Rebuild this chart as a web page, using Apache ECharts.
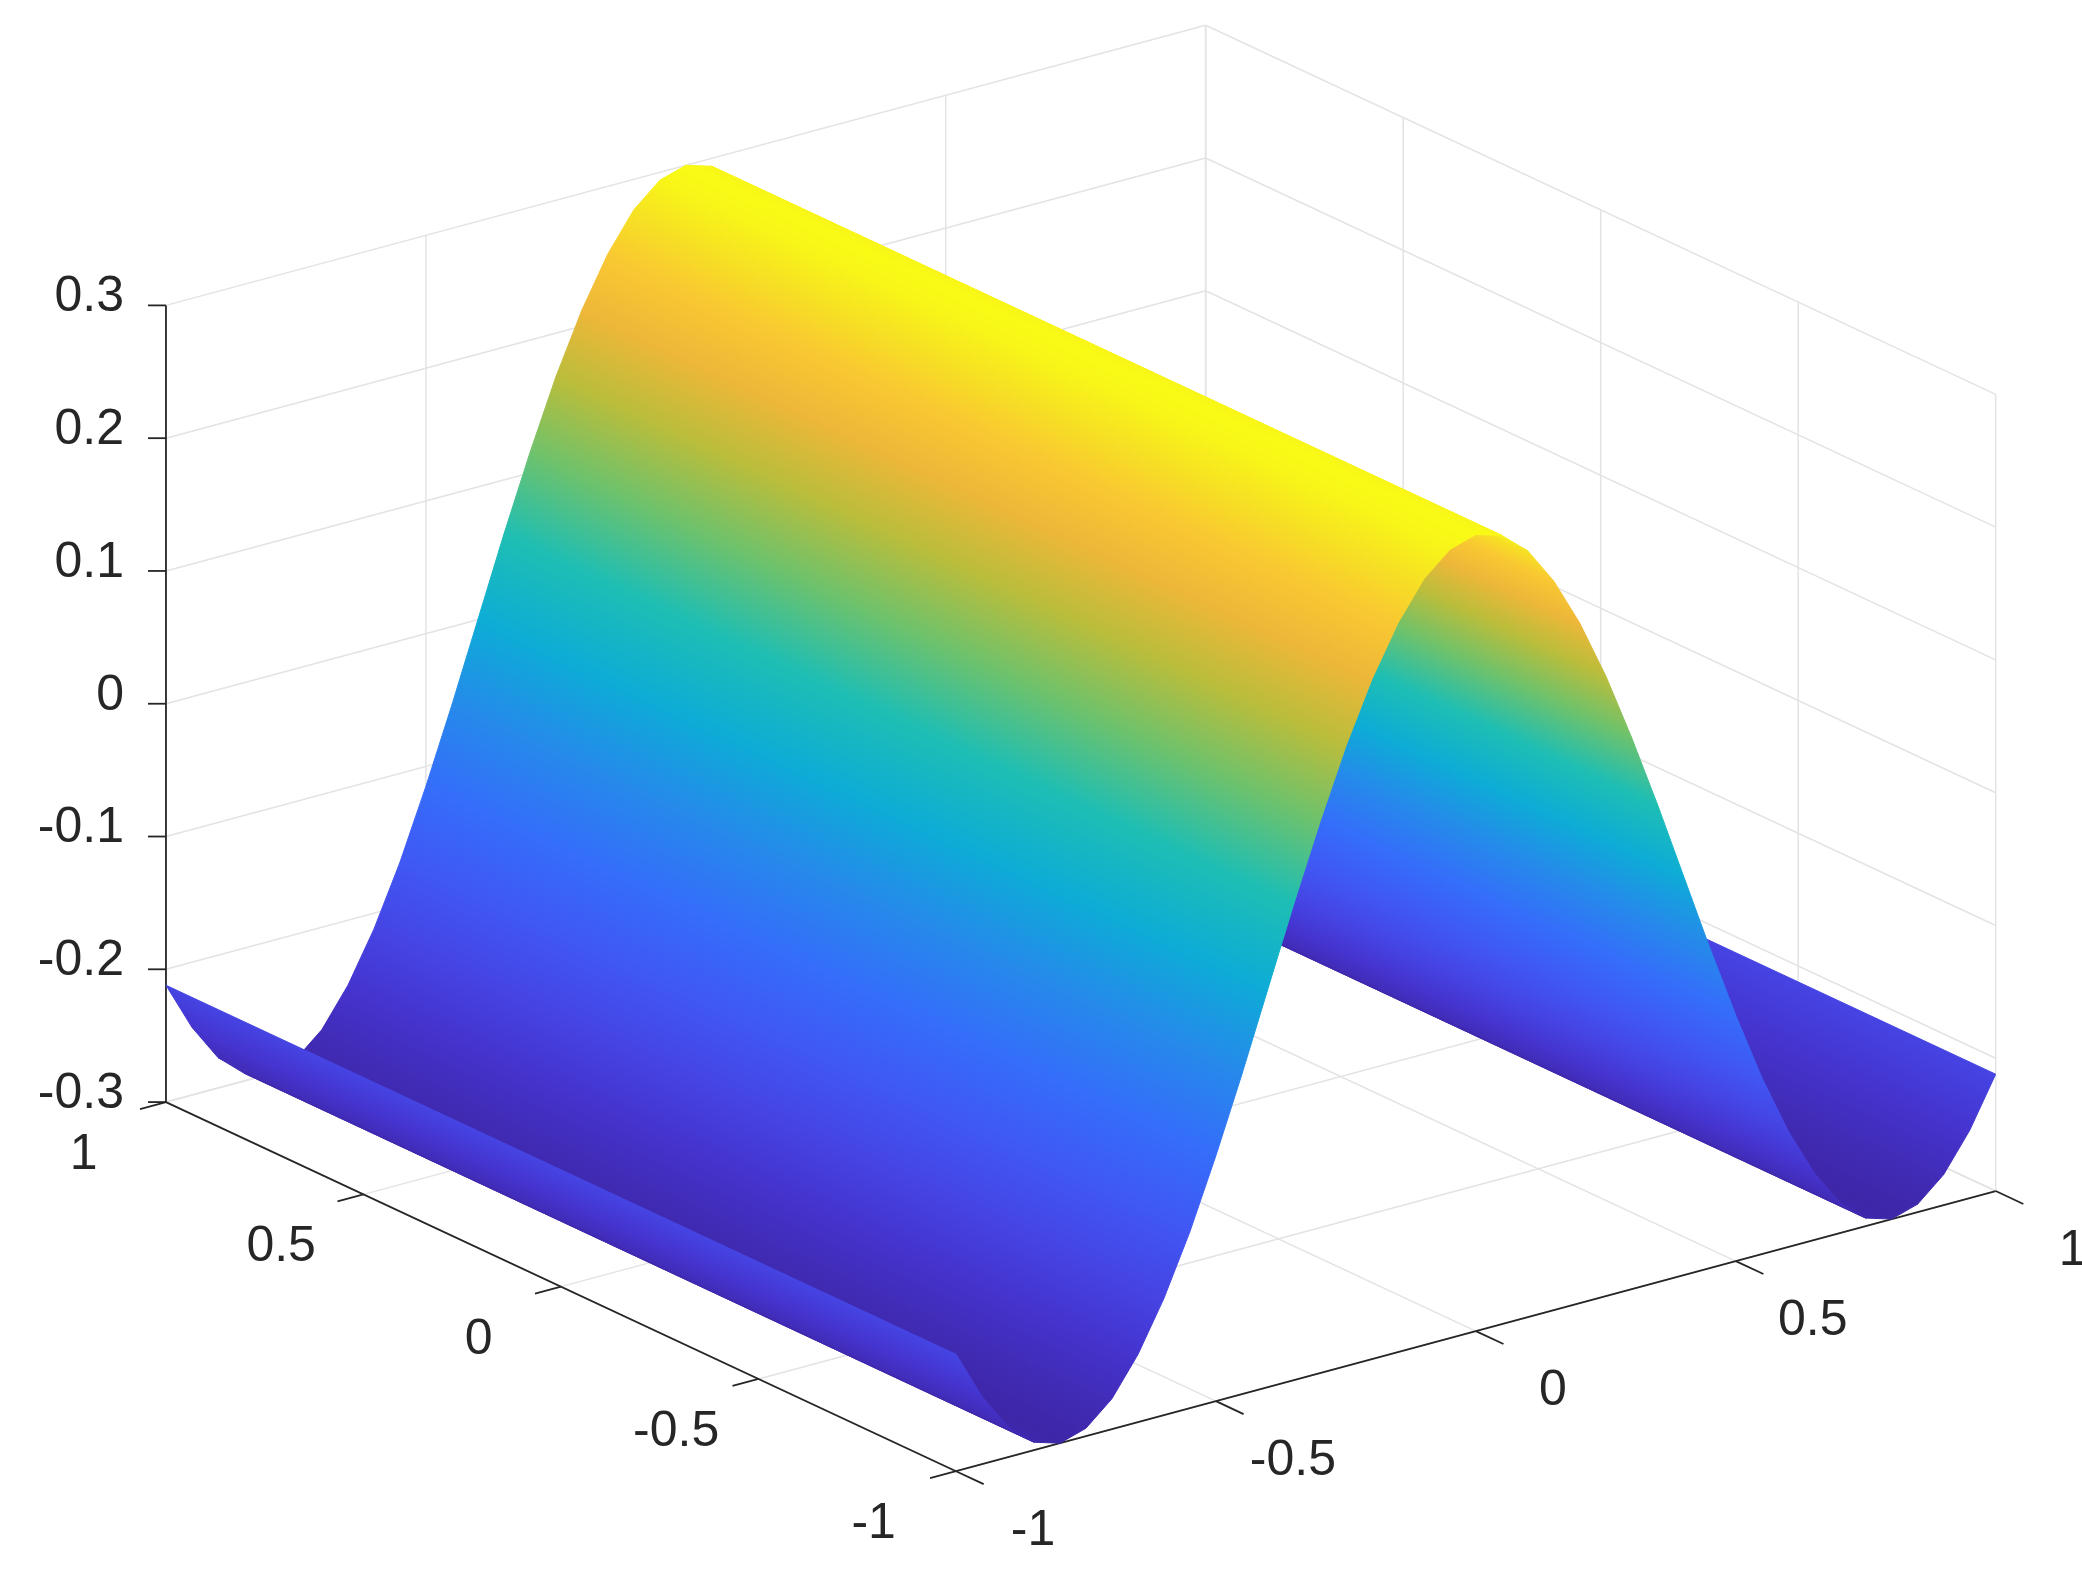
<!DOCTYPE html>
<html><head><meta charset="utf-8">
<script src="https://cdn.jsdelivr.net/npm/echarts@6/dist/echarts.min.js"></script>
<style>html,body{margin:0;padding:0;background:#fff}#c{width:2082px;height:1580px}</style>
</head><body><div id="c"></div>
<script>
// ---- data ----
const xVals = [-1,-0.95,-0.9,-0.85,-0.8,-0.75,-0.7,-0.65,-0.6,-0.55,-0.5,-0.45,-0.4,-0.35,-0.3,-0.25,-0.2,-0.15,-0.1,-0.05,0,
  0.05,0.1,0.15,0.2,0.25,0.3,0.35,0.4,0.45,0.5,0.55,0.6,0.65,0.7,0.75,0.8,0.85,0.9,0.95,1];
const zVals = [-0.212,-0.249,-0.277,-0.294,-0.300,-0.294,-0.277,-0.249,-0.212,-0.167,-0.115,-0.059,0,0.059,0.115,0.167,0.212,0.249,0.277,0.294,0.300,
  0.294,0.277,0.249,0.212,0.167,0.115,0.059,0,-0.059,-0.115,-0.167,-0.212,-0.249,-0.277,-0.294,-0.300,-0.294,-0.277,-0.249,-0.212];
const yRange = [-1, 1];
const xTicks = [-1,-0.5,0,0.5,1];
const yTicks = [-1,-0.5,0,0.5,1];
const zTicks = [-0.3,-0.2,-0.1,0,0.1,0.2,0.3];
const xTickLabels = ['-1','-0.5','0','0.5','1'];
const yTickLabels = ['-1','-0.5','0','0.5','1'];
const zTickLabels = ['-0.3','-0.2','-0.1','0','0.1','0.2','0.3'];
const zMin = -0.3, zMax = 0.3;

// ---- projection (MATLAB-like default view) ----
const S = 2082/1568;
function P(x,y,z){
  return [S*(814 + 391.5*x - 297.5*y), S*(863.5 - 105.5*x - 139*y - 1000*(z - zMin))];
}
const parula = [[0,'#3e26a8'],[0.1,'#4637d6'],[0.2,'#4352f2'],[0.32,'#3470fb'],[0.42,'#238ee8'],[0.52,'#08b4d2'],
  [0.58,'#10bcc0'],[0.66,'#4ec38a'],[0.74,'#9cc13f'],[0.82,'#dbb936'],[0.88,'#fdb63b'],[0.95,'#f5dc26'],[1,'#f9fb15']];
function hex(c){return [parseInt(c.slice(1,3),16),parseInt(c.slice(3,5),16),parseInt(c.slice(5,7),16)];}
function cmap(z){
  let t=Math.max(0,Math.min(1,(z-zMin)/(zMax-zMin)));
  for(let i=1;i<parula.length;i++){
    if(t<=parula[i][0]){
      const a=parula[i-1],b=parula[i],f=(t-a[0])/(b[0]-a[0]);
      const ca=hex(a[1]),cb=hex(b[1]);
      return 'rgb('+ca.map((v,k)=>Math.round(v+(cb[k]-v)*f)).join(',')+')';
    }
  }
  return parula[parula.length-1][1];
}
const gridC = '#e3e3e3', axC = '#262626', font = '50px "Liberation Sans", Arial, sans-serif';

function line(a,b,color,w){return {type:'line',shape:{x1:a[0],y1:a[1],x2:b[0],y2:b[1]},style:{stroke:color,lineWidth:w||1.5}};}
function text(p,s,align,vAlign){return {type:'text',x:p[0],y:p[1],style:{text:s,font:font,fill:axC,align:align,verticalAlign:vAlign}};}

function renderFrame(params, api){
  const ch=[];
  xTicks.forEach(x=>{ ch.push(line(P(x,1,zMin),P(x,1,zMax),gridC)); ch.push(line(P(x,-1,zMin),P(x,1,zMin),gridC)); });
  yTicks.forEach(y=>{ ch.push(line(P(1,y,zMin),P(1,y,zMax),gridC)); ch.push(line(P(-1,y,zMin),P(1,y,zMin),gridC)); });
  zTicks.forEach(z=>{ ch.push(line(P(-1,1,z),P(1,1,z),gridC)); ch.push(line(P(1,1,z),P(1,-1,z),gridC)); });
  ch.push(line(P(-1,1,zMin),P(-1,1,zMax),axC,1.8));
  ch.push(line(P(-1,1,zMin),P(-1,-1,zMin),axC,1.8));
  ch.push(line(P(-1,-1,zMin),P(1,-1,zMin),axC,1.8));
  zTicks.forEach((z,i)=>{
    const p=P(-1,1,z); ch.push(line([p[0]-18,p[1]],p,axC,1.8));
    ch.push(text([p[0]-42,p[1]-8],zTickLabels[i],'right','middle'));
  });
  yTicks.forEach((y,i)=>{
    const p=P(-1,y,zMin), q=P(-1.05,y,zMin); ch.push(line(p,q,axC,1.8));
    ch.push(text([p[0]-S*62,p[1]+S*40],yTickLabels[i],'center','middle'));
  });
  xTicks.forEach((x,i)=>{
    const p=P(x,-1,zMin), q=P(x,-1.07,zMin); ch.push(line(p,q,axC,1.8));
    ch.push(text([p[0]+S*58,p[1]+S*45],xTickLabels[i],'center','middle'));
  });
  return {type:'group',children:ch};
}

const stripIdx = [];
for(let i=xVals.length-2;i>=0;i--) stripIdx.push(i);

function renderStrip(params, api){
  const i = api.value(0);
  const x0=xVals[i],x1=xVals[i+1],z0=zVals[i],z1=zVals[i+1];
  const a=P(x0,yRange[0],z0), b=P(x1,yRange[0],z1), c=P(x1,yRange[1],z1), d=P(x0,yRange[1],z0);
  // gradient along the normal of the strip's long edges
  let ex=d[0]-a[0], ey=d[1]-a[1]; const L=Math.hypot(ex,ey); ex/=L; ey/=L;
  const nx=-ey, ny=ex; const dd=(b[0]-a[0])*nx+(b[1]-a[1])*ny;
  const e=[a[0]+nx*dd, a[1]+ny*dd];
  const mk=()=>new echarts.graphic.LinearGradient(a[0],a[1],e[0],e[1],[{offset:0,color:cmap(z0)},{offset:1,color:cmap(z1)}],true);
  return {type:'polygon',shape:{points:[a,b,c,d]},style:{fill:mk(),stroke:mk(),lineWidth:1}};
}

const chart = echarts.init(document.getElementById('c'));
chart.setOption({
  animation:false,
  series:[
    {type:'custom',coordinateSystem:'none',renderItem:renderFrame,data:[0],silent:true,z:1},
    {type:'custom',coordinateSystem:'none',renderItem:renderStrip,data:stripIdx.map(i=>[i]),silent:true,z:2}
  ]
});
</script></body></html>
